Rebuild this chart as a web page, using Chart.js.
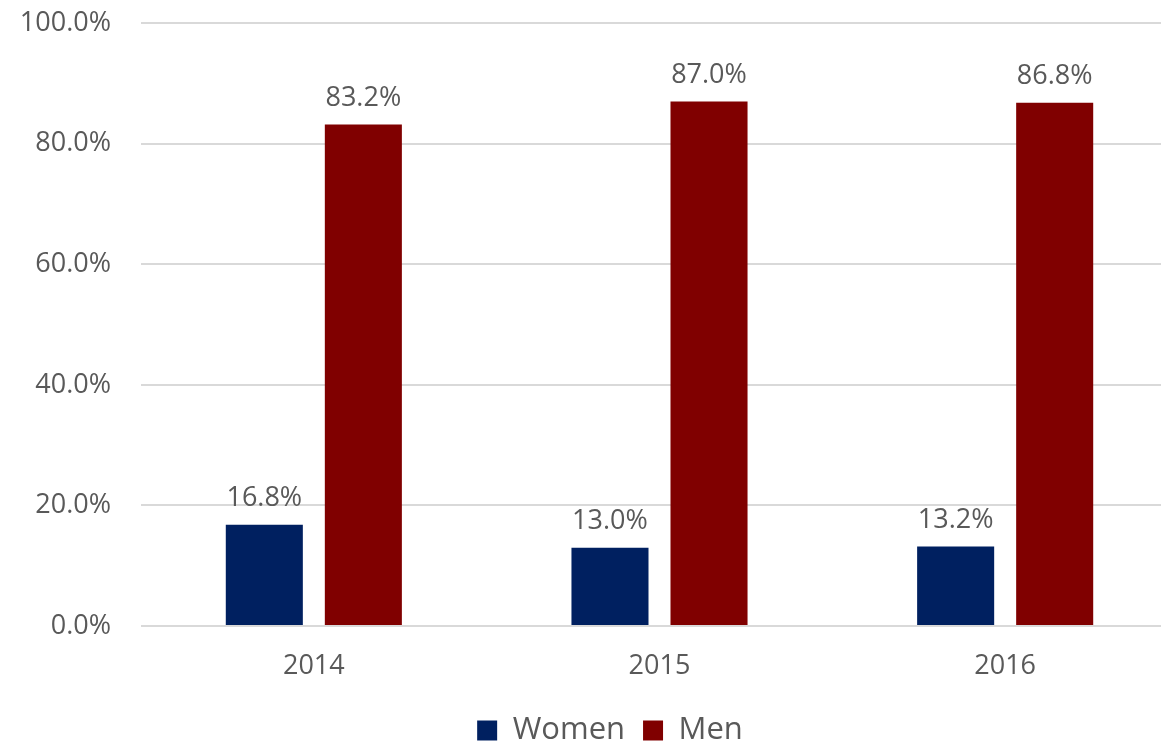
<!DOCTYPE html>
<html>
<head>
<meta charset="utf-8">
<script src="https://cdn.jsdelivr.net/npm/chart.js@4.4.0/dist/chart.umd.min.js"></script>
<style>
    html, body { margin: 0; padding: 0; background: #fff; overflow: hidden; }
    #wrap { width: 1161px; height: 746px; overflow: hidden; }
    #inner { width: 1178px; height: 779px; margin-top: -23px; }
</style>
</head>
<body>
<div id="wrap"><div id="inner"><canvas id="genderChart"></canvas></div></div>
<script>
// Share of women and men, by year
const years = ['2014', '2015', '2016'];
const women = [16.8, 13.0, 13.2];
const men = [83.2, 87.0, 86.8];
const yTicks = [0, 20, 40, 60, 80, 100];

const textColor = '#595959';
const fontFamily = "'Open Sans', sans-serif";

// value labels above each bar
const barLabels = {
    id: 'barLabels',
    afterDatasetsDraw(chart) {
        const ctx = chart.ctx;
        ctx.save();
        ctx.font = '27px ' + fontFamily;
        ctx.fillStyle = textColor;
        ctx.textAlign = 'center';
        ctx.textBaseline = 'bottom';
        chart.data.datasets.forEach((ds, i) => {
            chart.getDatasetMeta(i).data.forEach((bar, j) => {
                ctx.fillText(ds.data[j].toFixed(1) + '%', bar.x, bar.y - 13);
            });
        });
        ctx.restore();
    }
};

// nudge the legend a bit to the right, like the original
const legendShift = {
    id: 'legendShift',
    afterLayout(chart) {
        if (chart.legend) {
            chart.legend.left += 21;
            chart.legend.right += 21;
        }
    }
};

new Chart(document.getElementById('genderChart'), {
    type: 'bar',
    data: {
        labels: years,
        datasets: [{
            label: 'Women',
            data: women,
            backgroundColor: '#002060',
            categoryPercentage: 0.573,
            barPercentage: 0.778
        }, {
            label: 'Men',
            data: men,
            backgroundColor: '#800000',
            categoryPercentage: 0.573,
            barPercentage: 0.778
        }]
    },
    options: {
        responsive: true,
        maintainAspectRatio: false,
        animation: false,
        layout: {
            padding: { top: 0, right: 0, left: 0, bottom: 0 }
        },
        plugins: {
            legend: {
                display: true,
                position: 'bottom',
                labels: {
                    boxWidth: 20,
                    boxHeight: 20,
                    padding: 18,
                    color: textColor,
                    font: { family: fontFamily, size: 31 }
                }
            },
            tooltip: { enabled: false }
        },
        scales: {
            y: {
                min: 0,
                max: 100,
                afterBuildTicks: (axis) => {
                    axis.ticks = yTicks.map(v => ({ value: v }));
                },
                afterFit: (axis) => { axis.width = 141; },
                border: { display: false },
                grid: { color: '#d9d9d9', lineWidth: 2, drawTicks: false },
                ticks: {
                    padding: 30,
                    color: textColor,
                    font: { family: fontFamily, size: 27 },
                    callback: (value) => value.toFixed(1) + '%'
                }
            },
            x: {
                afterFit: (axis) => { axis.height = 71; },
                border: { display: false },
                grid: { display: false },
                ticks: {
                    padding: 16,
                    color: textColor,
                    font: { family: fontFamily, size: 27 }
                }
            }
        }
    },
    plugins: [barLabels, legendShift]
});
</script>
</body>
</html>
